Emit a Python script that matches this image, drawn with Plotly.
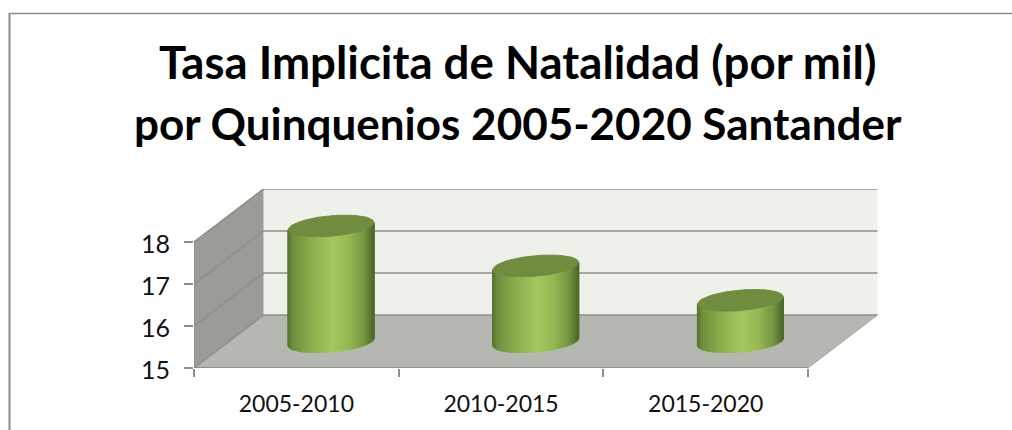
import math
import plotly.graph_objects as go

# Data
categories = ["2005-2010", "2010-2015", "2015-2020"]
values = [17.75, 16.8, 15.98]
y_ticks = [15, 16, 17, 18]
title_lines = ["Tasa Implicita de Natalidad (por mil)",
               "por Quinquenios 2005-2020 Santander"]

# Pixel layout of the front plane (style only)
W, H = 1012, 430
L, R, T, B = 194, 879, 189, 368
PX_X = 204.67   # px per category
PX_Y = 42.0     # px per unit
DEPTH_X = 69.5 / PX_X
DEPTH_Y = 53.0 / PX_Y
X0, Y0 = 0.5, 15.0
XMAX = X0 + (R - L) / PX_X
YMAX = Y0 + (B - T) / PX_Y
FRONT_END = X0 + len(categories)
TOP = y_ticks[-1]


def proj(x, v, d):
    """Oblique projection of (category x, value v, depth d in 0..1)."""
    return x + d * DEPTH_X, v + d * DEPTH_Y


def hex2rgb(h):
    return tuple(int(h[i:i + 2], 16) for i in (1, 3, 5))


def ramp(stops, u):
    for (a, ca), (b, cb) in zip(stops, stops[1:]):
        if u <= b:
            f = (u - a) / (b - a) if b > a else 0
            ra, rb = hex2rgb(ca), hex2rgb(cb)
            return "rgb(%d,%d,%d)" % tuple(round(p + (q - p) * f) for p, q in zip(ra, rb))
    return stops[-1][1]


fig = go.Figure()


def poly(pts, color, line=None, lw=0):
    xs = [p[0] for p in pts] + [pts[0][0]]
    ys = [p[1] for p in pts] + [pts[0][1]]
    fig.add_trace(go.Scatter(x=xs, y=ys, mode="lines", fill="toself", fillcolor=color,
                             line=dict(color=line or color, width=lw), hoverinfo="skip",
                             showlegend=False, cliponaxis=False))


def path(pts, color, lw):
    fig.add_trace(go.Scatter(x=[p[0] for p in pts], y=[p[1] for p in pts], mode="lines",
                             line=dict(color=color, width=lw), hoverinfo="skip",
                             showlegend=False, cliponaxis=False))


# Back wall
poly([proj(X0, Y0, 1), proj(FRONT_END, Y0, 1), proj(FRONT_END, TOP, 1), proj(X0, TOP, 1)], "#eef0ea")
# Side wall
poly([proj(X0, Y0, 0), proj(X0, Y0, 1), proj(X0, TOP, 1), proj(X0, TOP, 0)], "#9a9c95")
# Floor
poly([proj(X0, Y0, 0), proj(FRONT_END, Y0, 0), proj(FRONT_END, Y0, 1), proj(X0, Y0, 1)], "#b5b8b1")

# Gridlines
GRID = "#8e8f8c"
for v in y_ticks:
    path([proj(X0, v, 0), proj(X0, v, 1), proj(FRONT_END, v, 1)], GRID, 1.6)
path([proj(X0, Y0, 0), proj(X0, TOP, 0)], GRID, 1.6)
path([proj(X0, Y0, 0), proj(FRONT_END, Y0, 0)], GRID, 2)
path([proj(FRONT_END, Y0, 0), proj(FRONT_END, Y0, 1)], "#a6a8a2", 1)

# Cylinders
RX = 0.197
RD = 0.205
T0 = math.atan2(RD * DEPTH_X, RX)
BODY = [(-1, "#55712d"), (-0.88, "#6f8e3d"), (-0.5, "#8aab4c"), (0.05, "#a4c860"),
        (0.45, "#95b753"), (0.8, "#749441"), (1, "#4f6a2a")]
N = 56


def rim(cx, v, t):
    return proj(cx + RX * math.cos(t), v, 0.5 + RD * math.sin(t))


for i, v in enumerate(values):
    cx = i + 1
    for k in range(N):
        t1 = T0 + math.pi + math.pi * k / N
        t2 = T0 + math.pi + math.pi * (k + 1) / N
        width = math.hypot(RX, RD * DEPTH_X)
        u = (rim(cx, Y0, (t1 + t2) / 2)[0] - (cx + 0.5 * DEPTH_X)) / width
        poly([rim(cx, Y0, t1), rim(cx, Y0, t2), rim(cx, v, t2), rim(cx, v, t1)], ramp(BODY, u), lw=1.5)
    poly([rim(cx, v, 2 * math.pi * k / 72) for k in range(72)], "#718c3f", lw=1)

# Axes
AXC = "#8e8f8c"
axis_font = dict(family="Lato, 'Open Sans', sans-serif", size=23, color="#111111")
fig.update_layout(
    width=W, height=H, margin=dict(l=L, r=W - R, t=T, b=H - B, pad=0),
    paper_bgcolor="white", plot_bgcolor="white", showlegend=False,
    xaxis=dict(range=[X0, XMAX], tickmode="array", tickvals=[1, 2, 3], ticktext=categories,
               ticks="outside", ticklen=0, tickcolor="rgba(0,0,0,0)", showgrid=False, zeroline=False,
               showline=False, tickfont=axis_font, ticklabelstandoff=15),
    xaxis2=dict(range=[X0, XMAX], overlaying="x", side="bottom", anchor="y", tickmode="array",
                tickvals=[X0 + i for i in range(len(categories) + 1)], ticktext=[""] * 4,
                ticks="outside", ticklen=8, tickwidth=1.5, tickcolor=AXC, showgrid=False,
                zeroline=False, showline=False),
    yaxis=dict(range=[Y0, YMAX], tickmode="array", tickvals=y_ticks, ticktext=[str(t) for t in y_ticks],
               ticks="outside", ticklen=9, tickwidth=1.5, tickcolor=AXC, showgrid=False, zeroline=False,
               showline=False, tickfont=dict(axis_font, size=25), ticklabelstandoff=9, ticklabelshift=2),
)
# A trace so the tick-mark axis is rendered
fig.add_trace(go.Scatter(x=[X0], y=[Y0], xaxis="x2", mode="lines", hoverinfo="skip", showlegend=False))


def px(xp):
    return (xp - L) / (R - L)


def py(yp):
    return (B - yp) / (B - T)


# Title lines
for line, size, yc in zip(title_lines, [45.6, 44], [62, 123]):
    fig.add_annotation(text=line, xref="paper", yref="paper", x=px(517.5), y=py(yc), showarrow=False,
                       xanchor="center", yanchor="middle",
                       font=dict(family="Lato, 'Open Sans', sans-serif", size=size, color="black", weight=700))

# Outer chart frame
fig.add_shape(type="line", xref="paper", yref="paper", x0=px(9.5), x1=px(9.5), y0=py(13), y1=py(430),
              line=dict(color="#8c8c8c", width=2))
fig.add_shape(type="line", xref="paper", yref="paper", x0=px(9), x1=px(1012), y0=py(13.5), y1=py(13.5),
              line=dict(color="#8c8c8c", width=1.5))

fig.write_html("out.html", config={"displayModeBar": False},
               post_script="document.body.style.margin='0';document.body.style.overflow='hidden';")
